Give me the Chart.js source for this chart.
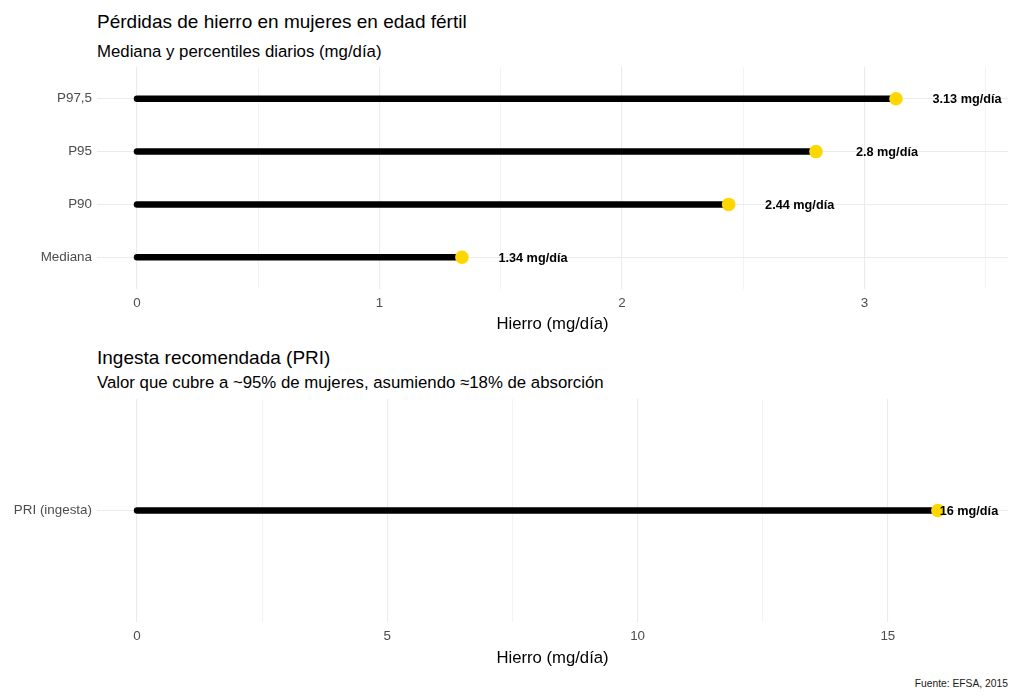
<!DOCTYPE html>
<html lang="es">
<head>
<meta charset="utf-8">
<title>Pérdidas de hierro</title>
<script src="https://cdn.jsdelivr.net/npm/chart.js@4.4.1/dist/chart.umd.min.js"></script>
<style>
  html, body { margin: 0; padding: 0; background: #fff; }
  body { width: 1024px; height: 696px; position: relative; overflow: hidden; font-family: "Liberation Sans", Arial, sans-serif; color: #000; }
  .txt { position: absolute; white-space: nowrap; }
  .title { left: 97px; font-size: 19px; line-height: 22px; }
  .subtitle { left: 97px; font-size: 16.8px; line-height: 20px; }
  .caption { right: 16px; font-size: 10.3px; line-height: 12px; color: #1a1a1a; }
  canvas { position: absolute; left: 0; }
</style>
</head>
<body>
<div class="txt title" style="top:11px">Pérdidas de hierro en mujeres en edad fértil</div>
<div class="txt subtitle" style="top:42px">Mediana y percentiles diarios (mg/día)</div>
<div class="txt title" style="top:347px">Ingesta recomendada (PRI)</div>
<div class="txt subtitle" style="top:373px">Valor que cubre a ~95% de mujeres, asumiendo ≈18% de absorción</div>
<div class="txt caption" style="top:678px">Fuente: EFSA, 2015</div>

<canvas id="lossChart" width="1024" height="345" style="top:0px"></canvas>
<canvas id="priChart" width="1024" height="339" style="top:340px"></canvas>

<script>
// top panel: iron losses
const lossCategories = ['Mediana', 'P90', 'P95', 'P97,5'];
const lossValues = [1.34, 2.44, 2.8, 3.13];
const lossLabels = ['1.34 mg/día', '2.44 mg/día', '2.8 mg/día', '3.13 mg/día'];
const lossTicks = [0, 1, 2, 3];
const lossMinorTicks = [0.5, 1.5, 2.5, 3.5];

// bottom panel: recommended intake
const priCategories = ['PRI (ingesta)'];
const priValues = [16];
const priLabels = ['16 mg/día'];
const priTicks = [0, 5, 10, 15];
const priMinorTicks = [2.5, 7.5, 12.5];

const xTitle = 'Hierro (mg/día)';
const FONT = '"Liberation Sans", Arial, sans-serif';
const GRID = '#EBEBEB';

const valueLabels = {
  id: 'valueLabels',
  afterDatasetsDraw(chart, args, opts) {
    const meta = chart.getDatasetMeta(chart.data.datasets.length - 1);
    const ctx = chart.ctx;
    ctx.save();
    ctx.font = 'bold 12.7px ' + FONT;
    ctx.fillStyle = '#000';
    ctx.textAlign = 'center';
    ctx.textBaseline = 'middle';
    meta.data.forEach((pt, i) => {
      ctx.fillText(opts.labels[i], pt.x + opts.offset, pt.y + 1);
    });
    ctx.restore();
  }
};

function lollipop(canvasId, cats, values, labels, major, minor, xMin, xMax, padTop, xHeight, labelOffset) {
  const segments = cats.map((c, i) => ({
    data: [{ x: 0, y: i + 1 }, { x: values[i], y: i + 1 }],
    showLine: true,
    borderColor: '#000',
    borderWidth: 6.5,
    borderCapStyle: 'round',
    pointRadius: 0,
    order: 1
  }));
  const points = {
    data: values.map((v, i) => ({ x: v, y: i + 1 })),
    backgroundColor: '#FFD700',
    borderWidth: 0,
    pointRadius: 6.8,
    order: 0
  };

  return new Chart(document.getElementById(canvasId), {
    type: 'scatter',
    data: { datasets: [...segments, points] },
    plugins: [valueLabels],
    options: {
      responsive: false,
      animation: false,
      layout: { padding: { top: padTop, right: 16, left: 0, bottom: 0 } },
      plugins: {
        legend: { display: false },
        tooltip: { enabled: false },
        valueLabels: { labels: labels, offset: labelOffset }
      },
      scales: {
        x: {
          type: 'linear',
          min: xMin,
          max: xMax,
          afterBuildTicks: (s) => {
            s.ticks = [...major, ...minor].sort((a, b) => a - b).map(v => ({ value: v }));
          },
          afterFit: (s) => { s.height = xHeight; },
          border: { display: false },
          grid: {
            color: GRID,
            drawTicks: false,
            lineWidth: (c) => major.includes(c.tick.value) ? 1.1 : 0.6
          },
          ticks: {
            autoSkip: false,
            maxRotation: 0,
            padding: 6,
            color: '#4D4D4D',
            font: { family: FONT, size: 13.4 },
            callback: (v) => major.includes(v) ? String(v) : ''
          },
          title: {
            display: true,
            text: xTitle,
            color: '#000',
            font: { family: FONT, size: 16.7 },
            padding: { top: 0, bottom: 11 }
          }
        },
        y: {
          type: 'linear',
          min: 0.4,
          max: cats.length + 0.6,
          afterBuildTicks: (s) => {
            s.ticks = cats.map((c, i) => ({ value: i + 1 }));
          },
          afterFit: (s) => { s.width = 97; },
          border: { display: false },
          grid: { color: GRID, drawTicks: false, lineWidth: 1.1 },
          ticks: {
            padding: 5,
            color: '#4D4D4D',
            font: { family: FONT, size: 13.4 },
            callback: (v, i) => cats[i]
          }
        }
      }
    }
  });
}

lollipop('lossChart', lossCategories, lossValues, lossLabels, lossTicks, lossMinorTicks,
  -0.165, 3.592, 67, 56, 71);
lollipop('priChart', priCategories, priValues, priLabels, priTicks, priMinorTicks,
  -0.8, 17.4, 59, 57, 31);
</script>
</body>
</html>
